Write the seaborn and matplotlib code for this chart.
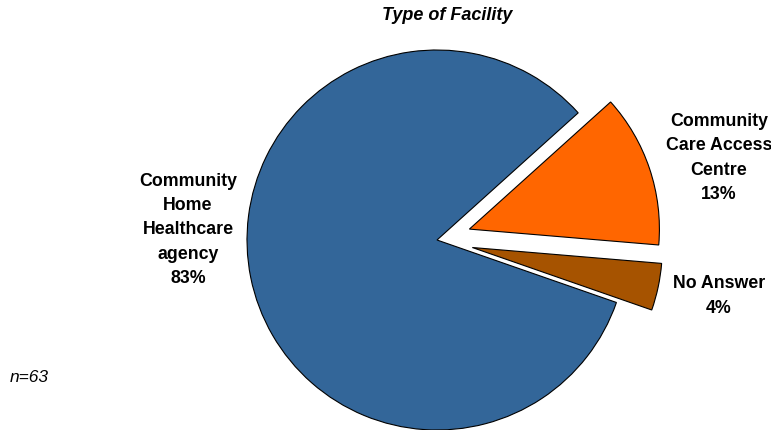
import matplotlib
matplotlib.use("Agg")
import matplotlib.pyplot as plt
import seaborn as sns

sns.set_theme(style="white")
plt.rcParams["font.family"] = ["Liberation Sans", "DejaVu Sans"]

# Facility types and their shares (%)
categories = ["Community\nHome\nHealthcare\nagency", "No Answer", "Community\nCare Access\nCentre"]
shares = [83, 4, 13]
slice_colors = ["#336699", "#A65300", "#FF6600"]
offsets = [0.0, 0.19, 0.18]
sample_note = "n=63"
title = "Type of Facility"

W, H, DPI = 771, 430, 100
fig = plt.figure(figsize=(W / DPI, H / DPI), dpi=DPI)
ax = fig.add_axes([0, 0, 1, 1])

# pie centre and radius in pixels
cx, cy_top, r = 437, 240, 190
ax.pie(
    shares,
    colors=slice_colors,
    explode=offsets,
    startangle=42,
    counterclock=True,
    wedgeprops=dict(edgecolor="black", linewidth=0.8),
)
ax.set_xlim(-cx / r, (W - cx) / r)
ax.set_ylim(-(H - cy_top) / r, cy_top / r)
ax.set_aspect("auto")
ax.axis("off")


def px(x, y):
    return (x - cx) / r, (cy_top - y) / r


label_style = dict(ha="center", va="center", fontsize=12.8, fontweight="bold",
                   linespacing=1.55, color="black")
ax.text(*px(188, 230), f"{categories[0]}\n{shares[0]}%", **label_style)
ax.text(*px(719, 158), f"{categories[2]}\n{shares[2]}%", **label_style)
ax.text(*px(719, 296), f"{categories[1]}\n{shares[1]}%", **label_style)

fig.text(447 / W, 1 - 16 / H, title, ha="center", va="center",
         fontsize=13, fontweight="bold", fontstyle="italic", color="black")
fig.text(10 / W, 1 - 377 / H, sample_note, ha="left", va="center",
         fontsize=12.5, fontstyle="italic", color="black")

fig.savefig("out.png", dpi=DPI)
